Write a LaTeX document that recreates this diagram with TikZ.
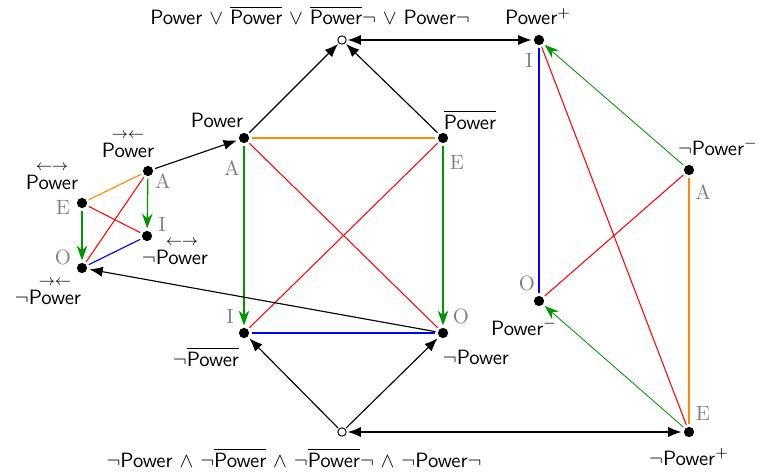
\documentclass[tikz,border=0pt]{standalone}
\usepackage{amsmath}
\usetikzlibrary{arrows.meta}
\definecolor{oppo}{RGB}{255,140,0}
\definecolor{contra}{RGB}{255,0,0}
\definecolor{subc}{RGB}{0,0,255}
\definecolor{alt}{RGB}{0,150,0}
\newcommand{\pw}{\mbox{Power}}
\begin{document}
\begin{tikzpicture}[x=0.527pt,y=-0.527pt,font=\fontsize{10.9}{13}\sffamily,
  dot/.style={circle,fill,inner sep=0pt,minimum size=5.4pt,outer sep=1.3pt},
  hollow/.style={circle,draw,fill=white,inner sep=0pt,minimum size=4.4pt,outer sep=0.8pt,line width=0.5pt},
  vowel/.style={text=gray,font=\fontsize{10.9}{13}\rmfamily,inner sep=0pt},
  txt/.style={inner sep=0pt,anchor=base},
  link/.style={line width=0.6pt},
  imp/.style={link,-{Latex[length=7pt,width=5.4pt]}},
  dimp/.style={link,{Latex[length=7pt,width=5.4pt]}-{Latex[length=7pt,width=5.4pt]}},
  sub/.style={alt,line width=0.65pt,-{Stealth[length=7.8pt,width=5.6pt,inset=2.5pt]}},
  subthin/.style={alt,line width=0.45pt,-{Stealth[length=7.5pt,width=5.4pt,inset=2.5pt]}},
  opp/.style={oppo,line width=0.6pt},
  con/.style={contra,line width=0.55pt},
  sbc/.style={subc,line width=0.6pt}]
\useasboundingbox (0,0) rectangle (759,472);

% main square of opposition
\node[dot] (mA) at (244,138) {};
\node[dot] (mE) at (443,138) {};
\node[dot] (mI) at (244,333) {};
\node[dot] (mO) at (443,333) {};
\node[txt] (mAt) at (217,127) {Power};
\node[txt] (mEt) at (470,129) {$\overline{\pw}$};
\node[txt] (mIt) at (206,366) {$\neg\overline{\pw}$};
\node[txt] (mOt) at (476,364) {$\neg$Power};
\node[vowel] (mAv) at (232,168) {A};
\node[vowel] (mEv) at (457,162) {E};
\node[vowel] (mIv) at (230,316) {I};
\node[vowel] (mOv) at (461,316) {O};

\draw[opp] (mA) -- (mE);
\draw[con] (mA) -- (mO);
\draw[con] (mE) -- (mI);
\draw[sbc] (mI) -- (mO);
\draw[sub] (mA) -- (mI);
\draw[sub] (mE) -- (mO);

% disjunction and conjunction points
\node[hollow] (top) at (342,40) {};
\node[hollow] (bot) at (342,432) {};
\node[txt] (topt) at (310,25) {Power $\vee$ $\overline{\pw}$ $\vee$ $\overline{\pw}\neg$ $\vee$ Power$\neg$};
\node[txt] (bott) at (294,467) {$\neg$Power $\wedge$ $\neg\overline{\pw}$ $\wedge$ $\neg\overline{\pw}\neg$ $\wedge$ $\neg$Power$\neg$};

\draw[imp] (mA) -- (top);
\draw[imp] (mE) -- (top);
\draw[imp] (bot) -- (mI);
\draw[imp] (bot) -- (mO);

% small square on the left
\node[dot] (lA) at (148,171) {};
\node[dot] (lE) at (82,203) {};
\node[dot] (lI) at (147,236) {};
\node[dot] (lO) at (82,268) {};
\node[txt] (lAt) at (128,157) {$\overset{\rightarrow\leftarrow}{\pw}$};
\node[txt] (lEt) at (52,189) {$\overset{\leftarrow\rightarrow}{\pw}$};
\node[txt] (lIt) at (175,264) {$\neg\overset{\leftarrow\rightarrow}{\pw}$};
\node[txt] (lOt) at (48,304) {$\neg\overset{\rightarrow\leftarrow}{\pw}$};
\node[vowel] (lAv) at (163,181) {A};
\node[vowel] (lEv) at (63,207) {E};
\node[vowel] (lIv) at (162,224) {I};
\node[vowel] (lOv) at (63,257) {O};

\draw[opp] (lA) -- (lE);
\draw[con] (lE) -- (lI);
\draw[con] (lA) -- (lO);
\draw[sbc] (lI) -- (lO);
\draw[sub] (lA) -- (lI);
\draw[sub] (lE) -- (lO);

\draw[imp] (lA) -- (mA);
\draw[imp] (mO) -- (lO);

% square on the right
\node[dot] (rI) at (539,40) {};
\node[dot] (rA) at (689,170) {};
\node[dot] (rO) at (539,301) {};
\node[dot] (rE) at (689,432) {};
\node[txt] (rIt) at (538,25) {Power$^+$};
\node[txt,anchor=base east] (rAt) at (758,155) {$\neg$Power$^-$};
\node[txt] (rOt) at (524,335) {Power$^-$};
\node[txt] (rEt) at (689,465) {$\neg$Power$^+$};
\node[vowel] (rIv) at (529,60) {I};
\node[vowel] (rAv) at (703,192) {A};
\node[vowel] (rOv) at (527,283) {O};
\node[vowel] (rEv) at (703,413) {E};

\draw[sbc] (rI) -- (rO);
\draw[opp] (rA) -- (rE);
\draw[con] (rI) -- (rE);
\draw[con] (rA) -- (rO);
\draw[subthin] (rA) -- (rI);
\draw[subthin] (rE) -- (rO);

\draw[dimp] (top) -- (rI);
\draw[dimp] (bot) -- (rE);
\end{tikzpicture}
\end{document}
